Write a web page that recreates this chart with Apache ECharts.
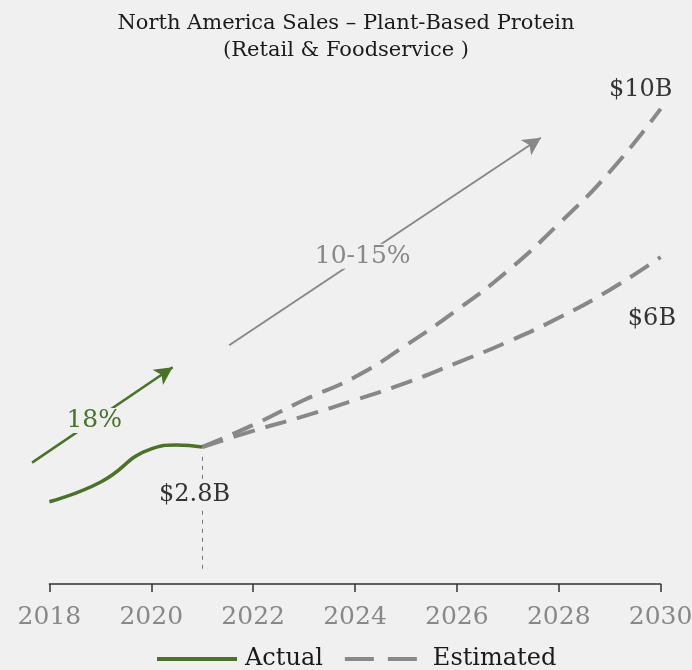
<!DOCTYPE html>
<html>
<head>
<meta charset="utf-8">
<script src="https://cdn.jsdelivr.net/npm/echarts@6/dist/echarts.min.js"></script>
<style>
html,body{margin:0;padding:0;background:#f0f0f0;}
#c{width:692px;height:670px;}
</style>
</head>
<body>
<div id="c"></div>
<script>
// ---- data ----
var xTicks = [2018, 2020, 2022, 2024, 2026, 2028, 2030];
var actualYears = [2018, 2019, 2020, 2020.5, 2021];
var actualValues = [1.68, 2.08, 2.76, 2.84, 2.80];
var estYears = [2021, 2022, 2023, 2024, 2025, 2026, 2027, 2028, 2029, 2030];
var estHigh = [2.80, 3.25, 3.76, 4.23, 4.88, 5.60, 6.40, 7.36, 8.42, 9.71];
var estLow = [2.80, 3.13, 3.43, 3.76, 4.11, 4.52, 4.95, 5.44, 6.01, 6.68];
// annotation arrows [x1, y1, x2, y2]
var arrowActual = [2017.66, 2.48, 2020.42, 4.43];
var arrowEst = [2021.53, 4.88, 2027.65, 9.12];
// annotation texts [x, y, text]
var labelActualGrowth = [2018.88, 3.34, '18%'];
var labelEstGrowth = [2024.15, 6.70, '10-15%'];
var labelHigh = [2029.61, 10.11, '$10B'];
var labelLow = [2029.83, 5.43, '$6B'];
var labelBase = [2020.85, 1.82, '$2.8B'];
var baseMarker = [2021, 2.6, 0.25];

var FONT = 'DejaVu Serif';
var GREEN = '#4a7229';
var GRAY = '#888888';
var BG = '#f0f0f0';

// main grid geometry
var W = 692, H = 670;
var G = {left: 49.4, right: 31.4, top: 94.7, bottom: 86};
var X0 = 2018, X1 = 2030, Y0 = 0, Y1 = 10;
// overlay grid covering the whole canvas with the same data->pixel mapping
var pxPerX = (W - G.left - G.right) / (X1 - X0);
var pxPerY = (H - G.top - G.bottom) / (Y1 - Y0);
var oxMin = X0 - G.left / pxPerX, oxMax = X1 + G.right / pxPerX;
var oyMin = Y0 - G.bottom / pxPerY, oyMax = Y1 + G.top / pxPerY;

function pairs(xs, ys){ return xs.map(function(x,i){ return [x, ys[i]]; }); }
function textPoint(l, color, size){
  return {coord:[l[0], l[1]], value:l[2], symbolSize:0,
    label:{show:true, position:'inside', formatter:l[2], color:color, fontSize:size, fontFamily:FONT,
      backgroundColor:BG, padding:[0,3]}};
}

var chart = echarts.init(document.getElementById('c'), null, {renderer:'canvas'});
chart.setOption({
  backgroundColor: BG,
  animation: false,
  title: {
    text: 'North America Sales – Plant-Based Protein\n(Retail & Foodservice )',
    left: 'center', top: 5,
    textStyle: {fontFamily: FONT, fontSize: 21, fontWeight: 'normal', color: '#1a1a1a', lineHeight: 27}
  },
  legend: {
    bottom: -6, left: 150,
    itemWidth: 80, itemHeight: 14, itemGap: 20,
    itemStyle: {opacity: 0},
    textStyle: {fontFamily: FONT, fontSize: 24, color: '#1a1a1a', padding: [0, 0, 0, 3]},
    data: [
      {name: 'Actual', lineStyle: {width: 4, color: GREEN}},
      {name: 'Estimated', lineStyle: {type: [29, 14], width: 4, color: GRAY}}
    ]
  },
  grid: [
    {left: G.left, right: G.right, top: G.top, bottom: G.bottom, containLabel: false, outerBoundsMode: 'none'},
    {left: 0, right: 0, top: 0, bottom: 0, containLabel: false, outerBoundsMode: 'none'}
  ],
  xAxis: [{
    type: 'value', min: X0, max: X1, interval: 2, gridIndex: 0,
    axisLine: {show: true, lineStyle: {color: '#333', width: 1.5}},
    axisTick: {show: true, length: 8, lineStyle: {color: '#333', width: 1.5}},
    splitLine: {show: false},
    axisLabel: {color: GRAY, fontFamily: FONT, fontSize: 25, margin: 21, hideOverlap: false,
      formatter: function(v){ return xTicks.indexOf(v) >= 0 ? String(v) : ''; }}
  }, {
    type: 'value', min: oxMin, max: oxMax, gridIndex: 1, show: false
  }],
  yAxis: [{
    type: 'value', min: Y0, max: Y1, show: false, splitLine: {show: false}, gridIndex: 0
  }, {
    type: 'value', min: oyMin, max: oyMax, show: false, splitLine: {show: false}, gridIndex: 1
  }],
  series: [
    {
      name: 'Actual', type: 'line', smooth: true, symbol: 'none',
      data: pairs(actualYears, actualValues),
      lineStyle: {color: GREEN, width: 3.5}, itemStyle: {color: GREEN}, z: 3
    },
    {
      name: 'Estimated', type: 'line', smooth: true, symbol: 'none',
      data: pairs(estYears, estHigh),
      lineStyle: {color: GRAY, width: 4, type: [22, 11]}, itemStyle: {color: GRAY}, z: 2
    },
    {
      name: 'Estimated', type: 'line', smooth: true, symbol: 'none',
      data: pairs(estYears, estLow),
      lineStyle: {color: GRAY, width: 4, type: [22, 11]}, itemStyle: {color: GRAY}, z: 2
    },
    {
      name: 'annot', type: 'line', data: [], clip: false, silent: true, z: 4,
      xAxisIndex: 1, yAxisIndex: 1,
      markLine: {
        silent: true, animation: false,
        label: {show: false},
        data: [
          [{coord: [arrowActual[0], arrowActual[1]], symbol: 'none', lineStyle: {color: GREEN, width: 2.5, type: 'solid'}},
           {coord: [arrowActual[2], arrowActual[3]], symbol: 'arrow', symbolSize: [14, 18]}],
          [{coord: [arrowEst[0], arrowEst[1]], symbol: 'none', lineStyle: {color: GRAY, width: 2, type: 'solid'}},
           {coord: [arrowEst[2], arrowEst[3]], symbol: 'arrow', symbolSize: [14, 18]}],
          [{coord: [baseMarker[0], baseMarker[1]], symbol: 'none', lineStyle: {color: '#777', width: 1, type: [4, 5]}},
           {coord: [baseMarker[0], baseMarker[2]], symbol: 'none'}]
        ]
      }
    },
    {
      name: 'annotText', type: 'line', data: [], clip: false, silent: true, z: 10,
      xAxisIndex: 1, yAxisIndex: 1,
      markPoint: {
        silent: true, animation: false,
        data: [
          textPoint(labelActualGrowth, GREEN, 25),
          textPoint(labelEstGrowth, GRAY, 25),
          textPoint(labelHigh, '#333', 24),
          textPoint(labelLow, '#333', 24),
          textPoint(labelBase, '#333', 24)
        ]
      }
    }
  ]
});
</script>
</body>
</html>
